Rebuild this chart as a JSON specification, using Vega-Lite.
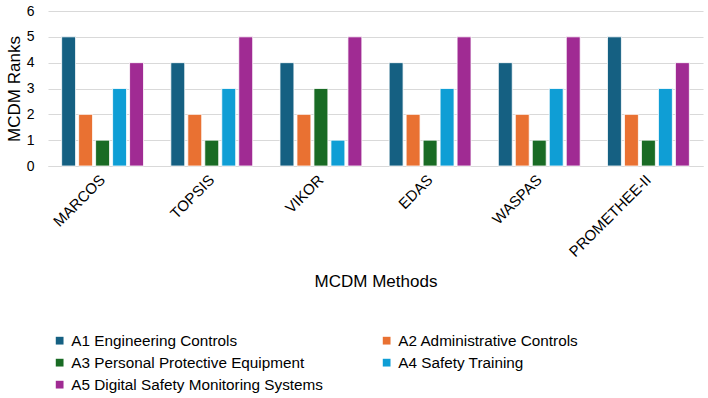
{
  "$schema": "https://vega.github.io/schema/vega-lite/v6.json",
  "width": 655,
  "height": 155,
  "autosize": "none",
  "padding": {"left": 48, "top": 11, "right": 5, "bottom": 232},
  "background": "white",
  "config": {
    "font": "Liberation Sans",
    "view": {"stroke": null},
    "axis": {"labelFont": "Liberation Sans", "titleFont": "Liberation Sans", "labelColor": "#000000", "titleColor": "#000000", "titleFontWeight": "normal"},
    "legend": {"labelFont": "Liberation Sans"}
  },
  "data": {
    "values": [
      {"method": "MARCOS", "alt": "A1 Engineering Controls", "rank": 5},
      {"method": "MARCOS", "alt": "A2 Administrative Controls", "rank": 2},
      {"method": "MARCOS", "alt": "A3 Personal Protective Equipment", "rank": 1},
      {"method": "MARCOS", "alt": "A4 Safety Training", "rank": 3},
      {"method": "MARCOS", "alt": "A5 Digital Safety Monitoring Systems", "rank": 4},
      {"method": "TOPSIS", "alt": "A1 Engineering Controls", "rank": 4},
      {"method": "TOPSIS", "alt": "A2 Administrative Controls", "rank": 2},
      {"method": "TOPSIS", "alt": "A3 Personal Protective Equipment", "rank": 1},
      {"method": "TOPSIS", "alt": "A4 Safety Training", "rank": 3},
      {"method": "TOPSIS", "alt": "A5 Digital Safety Monitoring Systems", "rank": 5},
      {"method": "VIKOR", "alt": "A1 Engineering Controls", "rank": 4},
      {"method": "VIKOR", "alt": "A2 Administrative Controls", "rank": 2},
      {"method": "VIKOR", "alt": "A3 Personal Protective Equipment", "rank": 3},
      {"method": "VIKOR", "alt": "A4 Safety Training", "rank": 1},
      {"method": "VIKOR", "alt": "A5 Digital Safety Monitoring Systems", "rank": 5},
      {"method": "EDAS", "alt": "A1 Engineering Controls", "rank": 4},
      {"method": "EDAS", "alt": "A2 Administrative Controls", "rank": 2},
      {"method": "EDAS", "alt": "A3 Personal Protective Equipment", "rank": 1},
      {"method": "EDAS", "alt": "A4 Safety Training", "rank": 3},
      {"method": "EDAS", "alt": "A5 Digital Safety Monitoring Systems", "rank": 5},
      {"method": "WASPAS", "alt": "A1 Engineering Controls", "rank": 4},
      {"method": "WASPAS", "alt": "A2 Administrative Controls", "rank": 2},
      {"method": "WASPAS", "alt": "A3 Personal Protective Equipment", "rank": 1},
      {"method": "WASPAS", "alt": "A4 Safety Training", "rank": 3},
      {"method": "WASPAS", "alt": "A5 Digital Safety Monitoring Systems", "rank": 5},
      {"method": "PROMETHEE-II", "alt": "A1 Engineering Controls", "rank": 5},
      {"method": "PROMETHEE-II", "alt": "A2 Administrative Controls", "rank": 2},
      {"method": "PROMETHEE-II", "alt": "A3 Personal Protective Equipment", "rank": 1},
      {"method": "PROMETHEE-II", "alt": "A4 Safety Training", "rank": 3},
      {"method": "PROMETHEE-II", "alt": "A5 Digital Safety Monitoring Systems", "rank": 4}
    ]
  },
  "mark": {"type": "bar", "stroke": "white", "strokeWidth": 0.8},
  "encoding": {
    "x": {
      "field": "method",
      "type": "nominal",
      "sort": null,
      "scale": {"paddingInner": 0.25, "paddingOuter": 0.125},
      "axis": {
        "title": "MCDM Methods",
        "titleFontSize": 17,
        "titleY": 107,
        "labelAngle": -45,
        "labelAlign": "right",
        "labelBaseline": "middle",
        "labelFontSize": 15,
        "labelPadding": 11,
        "ticks": false,
        "domain": true,
        "domainColor": "#d9d9d9",
        "grid": false
      }
    },
    "xOffset": {"field": "alt", "type": "nominal", "scale": {"paddingInner": 0.18}},
    "y": {
      "field": "rank",
      "type": "quantitative",
      "scale": {"domain": [0, 6]},
      "axis": {
        "title": "MCDM Ranks",
        "titleFontSize": 17,
        "titleX": -25,
        "values": [0, 1, 2, 3, 4, 5, 6],
        "labelFontSize": 14,
        "labelPadding": 14,
        "ticks": false,
        "domain": false,
        "grid": true,
        "gridColor": "#d9d9d9",
        "gridWidth": 1
      }
    },
    "color": {
      "field": "alt",
      "type": "nominal",
      "scale": {"range": ["#156082", "#E97132", "#196B24", "#0F9ED5", "#A02B93"]},
      "legend": {
        "title": null,
        "orient": "none",
        "direction": "horizontal",
        "legendX": 4,
        "legendY": 322,
        "columns": 2,
        "columnPadding": 56,
        "rowPadding": 6,
        "symbolType": "square",
        "symbolSize": 60,
        "symbolStrokeWidth": 0,
        "labelFontSize": 15.3,
        "labelOffset": 4,
        "labelLimit": 400
      }
    }
  }
}
